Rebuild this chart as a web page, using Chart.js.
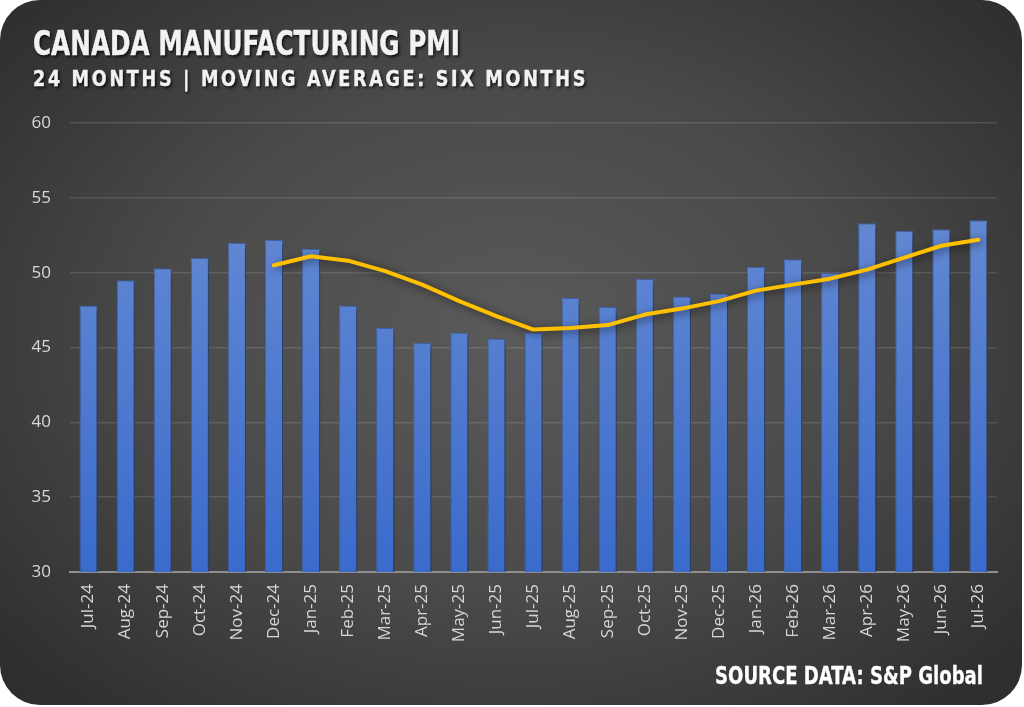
<!DOCTYPE html>
<html>
<head>
<meta charset="utf-8">
<script src="https://cdn.jsdelivr.net/npm/chart.js@4.4.1/dist/chart.umd.min.js"></script>
<style>
  html, body { margin: 0; padding: 0; background: #ffffff; }
  .panel {
    position: relative;
    width: 1022px; height: 705px;
    border-radius: 40px;
    overflow: hidden;
    background: radial-gradient(ellipse 75% 80% at 50% 48%, #5a5a5a 0%, #4a4a4a 45%, #303030 85%, #2a2a2a 100%);
  }
  canvas { position: absolute; left: 0; top: 0; }
  .txt {
    position: absolute; white-space: nowrap; color: #f2f2f2;
    font-family: "Liberation Sans Narrow", "DejaVu Sans Condensed", "Roboto", sans-serif;
    font-weight: bold; transform-origin: left top;
    text-shadow: 2px 2px 3px rgba(0,0,0,0.75);
    -webkit-text-stroke: 0.4px #f2f2f2;
  }
  #title { left: 33px; top: 26px; font-size: 34px; line-height: 34px; }
  #subtitle { left: 33px; top: 68px; font-size: 22px; line-height: 22px; letter-spacing: 3px; }
  #source { left: 715px; top: 664px; font-size: 24px; line-height: 24px; color: #ffffff; text-shadow: none; -webkit-text-stroke: 0.3px #fff; }
</style>
</head>
<body>
<div class="panel">
  <canvas id="pmi-chart" width="1024" height="707"></canvas>
  <div class="txt" id="title" data-w="427">CANADA MANUFACTURING PMI</div>
  <div class="txt" id="subtitle" data-w="555">24 MONTHS | MOVING AVERAGE: SIX MONTHS</div>
  <div class="txt" id="source" data-w="268">SOURCE DATA: S&amp;P Global</div>
</div>
<script>
// months on the x axis
const months = ["Jul-24", "Aug-24", "Sep-24", "Oct-24", "Nov-24", "Dec-24",
  "Jan-25", "Feb-25", "Mar-25", "Apr-25", "May-25", "Jun-25", "Jul-25", "Aug-25", "Sep-25", "Oct-25", "Nov-25", "Dec-25",
  "Jan-26", "Feb-26", "Mar-26", "Apr-26", "May-26", "Jun-26", "Jul-26"];

// monthly PMI (bars)
const pmi = [47.8, 49.5, 50.3, 51.0, 52.0, 52.2, 51.6, 47.8, 46.3, 45.3, 46.0, 45.6, 46.0,
  48.3, 47.7, 49.6, 48.4, 48.6, 50.4, 50.9, 50.0, 53.3, 52.8, 52.9, 53.5];

// six month moving average (line)
const movingAvg = [null, null, null, null, null, 50.5, 51.1, 50.8, 50.1, 49.2, 48.1, 47.1, 46.2,
  46.3, 46.5, 47.2, 47.6, 48.1, 48.8, 49.2, 49.6, 50.2, 51.0, 51.8, 52.2];

const yTicks = [30, 35, 40, 45, 50, 55, 60];

// squeeze the headings to the width they have in the picture
document.querySelectorAll(".txt").forEach((el) => {
  const w = el.getBoundingClientRect().width;
  el.style.transform = "scaleX(" + (Number(el.dataset.w) / w) + ")";
});

const shadowPlugin = {
  id: "shadow",
  beforeDatasetDraw(chart, args) {
    const ctx = chart.ctx;
    ctx.save();
    ctx.shadowColor = "rgba(0,0,0,0.6)";
    ctx.shadowBlur = 9;
    ctx.shadowOffsetX = 3;
    ctx.shadowOffsetY = 2;
  },
  afterDatasetDraw(chart) {
    chart.ctx.restore();
  }
};

function barFill(context) {
  const area = context.chart.chartArea;
  if (!area) return "#4a75cc";
  const g = context.chart.ctx.createLinearGradient(0, 220, 0, area.bottom);
  g.addColorStop(0, "#6388d2");
  g.addColorStop(1, "#3a6bcc");
  return g;
}

const canvas = document.querySelector("#pmi-chart");

new Chart(canvas, {
  data: {
    labels: months,
    datasets: [
      {
        type: "line",
        label: "Moving average",
        data: movingAvg,
        borderColor: "#ffc000",
        borderWidth: 4,
        pointRadius: 0,
        tension: 0,
        borderCapStyle: "round",
        borderJoinStyle: "round",
        order: 0
      },
      {
        type: "bar",
        label: "PMI",
        data: pmi,
        backgroundColor: barFill,
        borderColor: "#4a70bb",
        borderWidth: 1,
        borderSkipped: "bottom",
        barPercentage: 0.49,
        categoryPercentage: 1,
        order: 1
      }
    ]
  },
  options: {
    responsive: false,
    animation: false,
    devicePixelRatio: 1,
    layout: { padding: { left: 20, right: 27, top: 123, bottom: 0 } },
    plugins: {
      legend: { display: false },
      tooltip: { enabled: false }
    },
    scales: {
      x: {
        grid: { display: false, drawTicks: false },
        border: { color: "#8f8f8f", width: 2 },
        ticks: {
          color: "#d6d6d6",
          font: { family: "'Open Sans', sans-serif", size: 17 },
          minRotation: 90,
          maxRotation: 90,
          autoSkip: false,
          padding: 12
        },
        afterFit(scale) { scale.height = 135; }
      },
      y: {
        min: 30,
        max: 60,
        afterBuildTicks(scale) { scale.ticks = yTicks.map((v) => ({ value: v })); },
        grid: { color: "rgba(255,255,255,0.12)", lineWidth: 1.5, drawTicks: false },
        border: { display: false },
        ticks: {
          color: "#d9d9d9",
          font: { family: "'Open Sans', sans-serif", size: 17 },
          padding: 19
        },
        afterFit(scale) { scale.width = 50; }
      }
    }
  },
  plugins: [shadowPlugin]
});
</script>
</body>
</html>
